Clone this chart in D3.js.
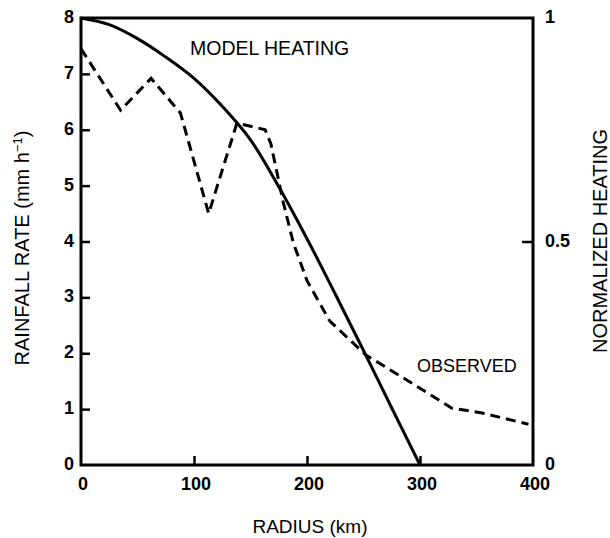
<!DOCTYPE html>
<html>
<head>
<meta charset="utf-8">
<script src="https://cdn.jsdelivr.net/npm/d3@7"></script>
<style>
  html, body { margin: 0; padding: 0; background: #fff; }
  svg { display: block; }
  text { font-family: "Liberation Sans", Arial, Helvetica, sans-serif; fill: #000; }
</style>
</head>
<body>
<svg id="chart" width="610" height="538"></svg>
<script>
// ---- data ----
const modelRadius  = [0, 25, 50, 75, 100, 125, 150, 175, 200, 225, 250, 275, 300];
const modelRain    = [8.0, 7.88, 7.63, 7.3, 6.92, 6.42, 5.82, 4.98, 4.05, 3.06, 2.05, 1.02, 0];
const obsRadius    = [0, 35, 62, 88, 113, 138, 163, 168, 179, 188, 200, 220, 252, 290, 328, 355, 396];
const obsRain      = [7.45, 6.35, 6.92, 6.3, 4.5, 6.12, 6.0, 5.75, 4.7, 3.97, 3.3, 2.58, 1.97, 1.5, 1.02, 0.93, 0.73];
const xTicks       = [0, 100, 200, 300, 400];
const yTicks       = [0, 1, 2, 3, 4, 5, 6, 7, 8];
const yRightTicks  = [0, 0.5, 1];
const yRightLabels = ["0", "0.5", "1"];
const labels = {
  x: "RADIUS (km)",
  yRight: "NORMALIZED HEATING",
  model: "MODEL HEATING",
  observed: "OBSERVED"
};

// ---- layout ----
const svg = d3.select("#chart");
const L = 81, R = 533, T = 18, B = 465;
const x = d3.scaleLinear().domain([0, 400]).range([L, R]);
const y = d3.scaleLinear().domain([0, 8]).range([B, T]);
const y2 = d3.scaleLinear().domain([0, 1]).range([B, T]);

const lineW = 3;

// frame
svg.append("rect")
  .attr("x", L).attr("y", T).attr("width", R - L).attr("height", B - T)
  .attr("fill", "none").attr("stroke", "#000").attr("stroke-width", lineW);

// left axis
const leftAxis = svg.append("g").attr("transform", `translate(${L},0)`)
  .call(d3.axisRight(y).tickValues(yTicks.filter(d => d > 0 && d < 8)).tickSize(9).tickFormat(""));
leftAxis.select(".domain").remove();
leftAxis.selectAll("line").attr("stroke", "#000").attr("stroke-width", 2.5);

svg.append("g").selectAll("text").data(yTicks).join("text")
  .attr("x", 74).attr("y", d => y(d) - 1)
  .attr("text-anchor", "end").attr("dominant-baseline", "central")
  .attr("font-size", 18).attr("font-weight", "bold")
  .text(d => d);

// right axis
const rightAxis = svg.append("g").attr("transform", `translate(${R},0)`)
  .call(d3.axisLeft(y2).tickValues([0.5]).tickSize(11).tickFormat(""));
rightAxis.select(".domain").remove();
rightAxis.selectAll("line").attr("stroke", "#000").attr("stroke-width", 2.5);

svg.append("g").selectAll("text").data(yRightTicks).join("text")
  .attr("x", 545).attr("y", d => y2(d) - 1)
  .attr("text-anchor", "start").attr("dominant-baseline", "central")
  .attr("font-size", 18).attr("font-weight", "bold")
  .text((d, i) => yRightLabels[i]);

// bottom axis
const bottomAxis = svg.append("g").attr("transform", `translate(0,${B})`)
  .call(d3.axisTop(x).tickValues(xTicks.filter(d => d > 0 && d < 400)).tickSize(9).tickFormat(""));
bottomAxis.select(".domain").remove();
bottomAxis.selectAll("line").attr("stroke", "#000").attr("stroke-width", 2.5);

svg.append("g").selectAll("text").data(xTicks).join("text")
  .attr("x", d => x(d) + 2).attr("y", 490)
  .attr("text-anchor", "middle")
  .attr("font-size", 18).attr("font-weight", "bold")
  .text(d => d);

// axis titles
svg.append("text")
  .attr("x", 310).attr("y", 533)
  .attr("text-anchor", "middle").attr("font-size", 19)
  .text(labels.x);

const leftTitle = svg.append("text")
  .attr("transform", `translate(29,248) rotate(-90)`)
  .attr("text-anchor", "middle").attr("font-size", 20);
leftTitle.append("tspan").text("RAINFALL RATE (mm h");
leftTitle.append("tspan").attr("dy", -7).attr("font-size", 13).text("−1");
leftTitle.append("tspan").attr("dy", 7).text(")");

svg.append("text")
  .attr("transform", `translate(607,241) rotate(-90)`)
  .attr("text-anchor", "middle").attr("font-size", 20)
  .text(labels.yRight);

// lines
const modelData = modelRadius.map((r, i) => [r, modelRain[i]]);
const obsData = obsRadius.map((r, i) => [r, obsRain[i]]);

svg.append("path")
  .datum(modelData)
  .attr("fill", "none").attr("stroke", "#000").attr("stroke-width", 3)
  .attr("d", d3.line().x(d => x(d[0])).y(d => y(d[1])).curve(d3.curveCatmullRom));

svg.append("path")
  .datum(obsData)
  .attr("fill", "none").attr("stroke", "#000").attr("stroke-width", 3)
  .attr("stroke-dasharray", "10,6")
  .attr("d", d3.line().x(d => x(d[0])).y(d => y(d[1])));

// annotations
svg.append("text")
  .attr("x", 190).attr("y", 55)
  .attr("font-size", 19.5)
  .text(labels.model);

svg.append("text")
  .attr("x", 417).attr("y", 372)
  .attr("font-size", 18)
  .text(labels.observed);
</script>
</body>
</html>
